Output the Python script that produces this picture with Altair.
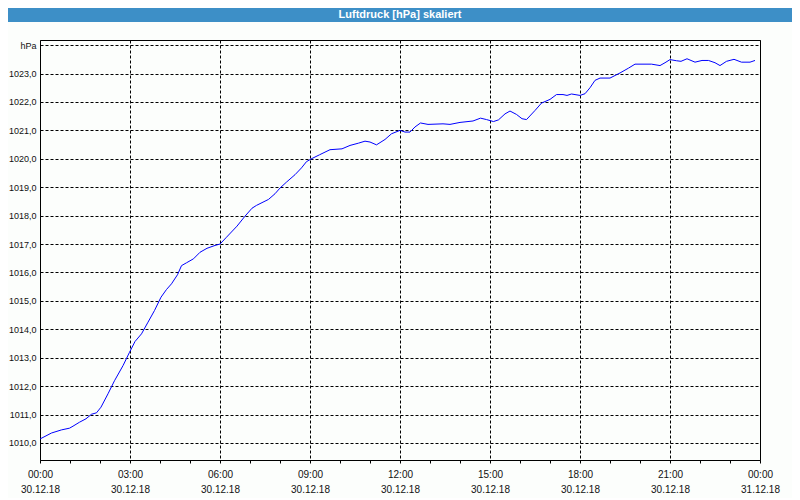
import altair as alt
import pandas as pd

# ---- data ----
times = [
    "00:00", "00:23", "00:43", "00:59", "01:06", "01:19", "01:32", "01:43", "01:53", "02:02",
    "02:16", "02:29", "02:46", "02:59", "03:10", "03:23", "03:36", "03:49", "04:02", "04:13",
    "04:23", "04:35", "04:43", "04:53", "05:07", "05:20", "05:34", "05:50", "06:00", "06:13",
    "06:34", "06:50", "07:04", "07:13", "07:37", "07:50", "08:00", "08:13", "08:30", "08:43",
    "08:53", "09:04", "09:19", "09:40", "10:04", "10:20", "10:37", "10:50", "11:00", "11:13",
    "11:30", "11:43", "12:00", "12:10", "12:20", "12:30", "12:41", "12:56", "13:26", "13:40",
    "14:00", "14:26", "14:41", "14:53", "15:07", "15:17", "15:30", "15:40", "15:53", "16:04",
    "16:13", "16:30", "16:43", "17:00", "17:13", "17:26", "17:34", "17:43", "18:00", "18:10",
    "18:20", "18:30", "18:40", "19:00", "19:20", "19:37", "19:50", "20:23", "20:40", "20:50",
    "21:00", "21:13", "21:22", "21:34", "21:50", "22:04", "22:17", "22:30", "22:40", "22:53",
    "23:08", "23:23", "23:40", "23:50",
]
pressure = [
    1010.14, 1010.35, 1010.46, 1010.52, 1010.59, 1010.73, 1010.85, 1011.01, 1011.06, 1011.26,
    1011.73, 1012.19, 1012.72, 1013.19, 1013.57, 1013.84, 1014.25, 1014.66, 1015.13, 1015.40,
    1015.60, 1015.92, 1016.24, 1016.34, 1016.48, 1016.71, 1016.85, 1016.95, 1017.00, 1017.24,
    1017.63, 1017.98, 1018.26, 1018.36, 1018.57, 1018.77, 1018.97, 1019.18, 1019.44, 1019.68,
    1019.90, 1020.01, 1020.14, 1020.32, 1020.35, 1020.47, 1020.55, 1020.62, 1020.59, 1020.49,
    1020.68, 1020.88, 1021.00, 1020.94, 1020.94, 1021.12, 1021.26, 1021.21, 1021.23, 1021.21,
    1021.28, 1021.33, 1021.43, 1021.38, 1021.31, 1021.37, 1021.58, 1021.68, 1021.56, 1021.41,
    1021.38, 1021.70, 1021.96, 1022.09, 1022.26, 1022.26, 1022.23, 1022.28, 1022.23, 1022.29,
    1022.50, 1022.76, 1022.84, 1022.84, 1023.02, 1023.19, 1023.33, 1023.33, 1023.28, 1023.38,
    1023.49, 1023.45, 1023.43, 1023.52, 1023.40, 1023.46, 1023.46, 1023.38, 1023.28, 1023.43,
    1023.50, 1023.40, 1023.40, 1023.46,
]
hour_ticks = list(range(0, 25))
y_ticks = list(range(1010, 1025))
title_text = "Luftdruck [hPa] skaliert"
unit_label = "hPa"
day_label = "30.12.18"
next_day_label = "31.12.18"

df = pd.DataFrame({"time": times, "hPa": pressure})
df["hours"] = df["time"].str.slice(0, 2).astype(int) + df["time"].str.slice(3, 5).astype(int) / 60.0

FONT = "Liberation Sans"
BLUE_BAR = "#3d8fc7"
DASH = [3, 2]

x_label_expr = (
    "datum.value % 3 === 0 ? "
    "[(datum.value % 24 < 10 ? '0' : '') + (datum.value % 24) + ':00', "
    f"datum.value === 24 ? '{next_day_label}' : '{day_label}'] : ''"
)
y_label_expr = (
    f"datum.value === 1024 ? '{unit_label}' : replace(format(datum.value, '.1f'), '.', ',')"
)

line = alt.Chart(df).mark_line(color="#0000ff", strokeWidth=1).encode(
    x=alt.X(
        "hours:Q",
        scale=alt.Scale(domain=[0, 24], nice=False, zero=False),
        axis=alt.Axis(
            values=hour_ticks, title=None,
            grid=True, gridColor="#000000", gridDash=DASH, gridWidth=1,
            gridOpacity={"condition": {"test": "datum.value % 3 === 0", "value": 1}, "value": 0},
            labelExpr=x_label_expr,
            ticks=True, tickSize=3, tickColor="#000000",
            domain=True, domainColor="#000000",
            labelFont=FONT, labelFontSize=10, labelColor="#111111",
            labelPadding=6, labelLineHeight=15,
            labelAlign="center", labelBaseline="top",
            labelFlush=False, labelOverlap=False,
        ),
    ),
    y=alt.Y(
        "hPa:Q",
        scale=alt.Scale(domain=[1009.4, 1024.18], nice=False, zero=False),
        axis=alt.Axis(
            values=y_ticks, title=None,
            grid=True, gridColor="#000000", gridDash=DASH, gridWidth=1,
            labelExpr=y_label_expr,
            ticks=False, domain=False,
            labelFont=FONT, labelFontSize=9, labelColor="#111111",
            labelPadding=4, labelOverlap=False, labelFlush=False,
        ),
    ),
)

one = alt.Data(values=[{"a": 1}])

title_bar = alt.Chart(one).mark_rect(color=BLUE_BAR).encode(
    x=alt.value(-32), x2=alt.value(752), y=alt.value(-32), y2=alt.value(-18)
)
title_txt = alt.Chart(one).mark_text(
    text=title_text, color="#ffffff", font=FONT, fontSize=11, fontWeight="bold",
    align="center", baseline="middle",
).encode(x=alt.value(360), y=alt.value(-25))

chart = alt.layer(title_bar, title_txt, line).properties(
    width=720, height=420,
    padding={"left": 32, "top": 32, "right": 32, "bottom": 38},
    autosize=alt.AutoSizeParams(type="none"),
).configure(background="#fcfefc").configure_view(stroke="#000000", strokeWidth=1)

chart.save("out.html", embed_options={"renderer": "svg", "actions": False})
